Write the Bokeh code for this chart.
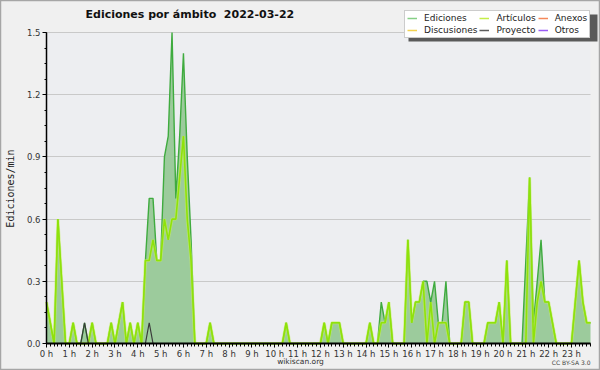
import math
from bokeh.plotting import figure
from bokeh.models import (Range1d, FixedTicker, Legend, LegendItem, Label,
                          BoxAnnotation, Grid)
from bokeh.embed import file_html
from bokeh.resources import INLINE

# 10-minute slots of the day (00:00 ... 23:50)
slots = list(range(144))

# edits per minute, one row per hour (six 10-minute slots)
ediciones = [
    0.2, 0.1, 0.0, 0.6, 0.3, 0.0,   # 0 h
    0.0, 0.1, 0.0, 0.0, 0.1, 0.0,   # 1 h
    0.1, 0.0, 0.0, 0.0, 0.0, 0.1,   # 2 h
    0.0, 0.1, 0.2, 0.0, 0.1, 0.0,   # 3 h
    0.1, 0.0, 0.4, 0.7, 0.7, 0.4,   # 4 h
    0.4, 0.9, 1.0, 1.5, 0.7, 1.0,   # 5 h
    1.4, 0.9, 0.5, 0.0, 0.0, 0.0,   # 6 h
    0.0, 0.1, 0.0, 0.0, 0.0, 0.0,   # 7 h
    0.0, 0.0, 0.0, 0.0, 0.0, 0.0,   # 8 h
    0.0, 0.0, 0.0, 0.0, 0.0, 0.0,   # 9 h
    0.0, 0.0, 0.0, 0.1, 0.0, 0.0,   # 10 h
    0.0, 0.0, 0.0, 0.0, 0.0, 0.0,   # 11 h
    0.0, 0.1, 0.0, 0.1, 0.1, 0.1,   # 12 h
    0.0, 0.0, 0.0, 0.0, 0.0, 0.0,   # 13 h
    0.0, 0.1, 0.0, 0.0, 0.2, 0.1,   # 14 h
    0.2, 0.0, 0.0, 0.0, 0.0, 0.5,   # 15 h
    0.1, 0.2, 0.2, 0.3, 0.3, 0.2,   # 16 h
    0.3, 0.1, 0.1, 0.3, 0.0, 0.0,   # 17 h
    0.0, 0.0, 0.2, 0.2, 0.0, 0.0,   # 18 h
    0.0, 0.0, 0.1, 0.1, 0.1, 0.2,   # 19 h
    0.0, 0.4, 0.0, 0.0, 0.0, 0.0,   # 20 h
    0.4, 0.8, 0.1, 0.3, 0.5, 0.2,   # 21 h
    0.2, 0.1, 0.0, 0.0, 0.0, 0.0,   # 22 h
    0.0, 0.2, 0.4, 0.2, 0.1, 0.1,   # 23 h
]

articulos = [
    0.2, 0.1, 0.0, 0.6, 0.3, 0.0,   # 0 h
    0.0, 0.1, 0.0, 0.0, 0.0, 0.0,   # 1 h
    0.1, 0.0, 0.0, 0.0, 0.0, 0.1,   # 2 h
    0.0, 0.1, 0.2, 0.0, 0.1, 0.0,   # 3 h
    0.1, 0.0, 0.4, 0.4, 0.5, 0.4,   # 4 h
    0.4, 0.6, 0.5, 0.6, 0.6, 0.8,   # 5 h
    1.0, 0.6, 0.4, 0.0, 0.0, 0.0,   # 6 h
    0.0, 0.1, 0.0, 0.0, 0.0, 0.0,   # 7 h
    0.0, 0.0, 0.0, 0.0, 0.0, 0.0,   # 8 h
    0.0, 0.0, 0.0, 0.0, 0.0, 0.0,   # 9 h
    0.0, 0.0, 0.0, 0.1, 0.0, 0.0,   # 10 h
    0.0, 0.0, 0.0, 0.0, 0.0, 0.0,   # 11 h
    0.0, 0.1, 0.0, 0.1, 0.1, 0.1,   # 12 h
    0.0, 0.0, 0.0, 0.0, 0.0, 0.0,   # 13 h
    0.0, 0.1, 0.0, 0.0, 0.1, 0.1,   # 14 h
    0.2, 0.0, 0.0, 0.0, 0.0, 0.5,   # 15 h
    0.1, 0.2, 0.2, 0.3, 0.0, 0.2,   # 16 h
    0.0, 0.1, 0.1, 0.1, 0.0, 0.0,   # 17 h
    0.0, 0.0, 0.2, 0.2, 0.0, 0.0,   # 18 h
    0.0, 0.0, 0.1, 0.1, 0.1, 0.2,   # 19 h
    0.0, 0.4, 0.0, 0.0, 0.0, 0.0,   # 20 h
    0.0, 0.8, 0.0, 0.2, 0.3, 0.2,   # 21 h
    0.2, 0.1, 0.0, 0.0, 0.0, 0.0,   # 22 h
    0.0, 0.2, 0.4, 0.2, 0.1, 0.1,   # 23 h
]

proyecto = [
    0.0, 0.0, 0.0, 0.0, 0.0, 0.0,   # 0 h
    0.0, 0.0, 0.0, 0.0, 0.1, 0.0,   # 1 h
    0.0, 0.0, 0.0, 0.0, 0.0, 0.0,   # 2 h
    0.0, 0.0, 0.0, 0.0, 0.0, 0.0,   # 3 h
    0.0, 0.0, 0.0, 0.1, 0.0, 0.0,   # 4 h
] + [0.0] * 114                     # 5 h .. 23 h: nothing

hour_ticks = [0, 6, 12, 18, 24, 30, 36, 42, 48, 54, 60, 66,
              72, 78, 84, 90, 96, 102, 108, 114, 120, 126, 132, 138]
hour_labels = ["0 h", "1 h", "2 h", "3 h", "4 h", "5 h", "6 h", "7 h",
               "8 h", "9 h", "10 h", "11 h", "12 h", "13 h", "14 h", "15 h",
               "16 h", "17 h", "18 h", "19 h", "20 h", "21 h", "22 h", "23 h"]
y_ticks = [0.0, 0.3, 0.6, 0.9, 1.2, 1.5]
y_labels = ["0.0", "0.3", "0.6", "0.9", "1.2", "1.5"]
y_minor = [0.075 * k for k in range(21)]

legend_names = ["Ediciones", "Artículos", "Anexos", "Discusiones", "Proyecto", "Otros"]
legend_colors = ["#86cf86", "#c4ee48", "#f5895a", "#f3d250", "#5c5c5c", "#9a5cf5"]

FONT = "DejaVu Sans"

# ---- layout (pixels in the 600x370 canvas) ----
W, H = 600, 370
PL, PR, PT, PB = 46, 590, 32, 343          # plot area edges
X0, X1 = 0, 143                            # first / last slot
Y0, Y1 = 0.0, 1.5
sx = (PR - PL) / (X1 - X0)
sy = (PB - PT) / (Y1 - Y0)

p = figure(width=W, height=H,
           x_range=Range1d(X0 - PL / sx, X1 + (W - PR) / sx),
           y_range=Range1d(Y0 - (H - PB) / sy, Y1 + PT / sy),
           output_backend="svg", toolbar_location=None,
           min_border=0, min_border_left=0, min_border_right=0,
           min_border_top=0, min_border_bottom=0,
           background_fill_color="#f0f0f0", border_fill_color="#f0f0f0")
p.outline_line_color = "#a6a6a6"
p.outline_line_width = 1.5
p.title.visible = False

# plot-area background
p.add_layout(BoxAnnotation(left=X0, right=X1, bottom=Y0, top=Y1,
                           fill_color="#edeef1", fill_alpha=1,
                           line_color=None, level="image"))

# axes at fixed positions
for ax in (p.xaxis[0], p.yaxis[0]):
    ax.fixed_location = 0
    ax.axis_line_color = "black"
    ax.major_tick_line_color = "black"
    ax.minor_tick_line_color = "black"
    ax.major_tick_in = 0
    ax.minor_tick_in = 0
    ax.major_label_text_font = FONT
    ax.major_label_text_font_size = "8.5px"
    ax.major_label_text_color = "#333333"
p.xaxis.ticker = FixedTicker(ticks=hour_ticks, minor_ticks=slots)
p.xaxis.major_label_overrides = {t: l for t, l in zip(hour_ticks, hour_labels)}
p.xaxis.bounds = (X0, X1)
p.yaxis.ticker = FixedTicker(ticks=y_ticks, minor_ticks=y_minor)
p.yaxis.major_label_overrides = {t: l for t, l in zip(y_ticks, y_labels)}
p.yaxis.bounds = (Y0, Y1)
p.xaxis.axis_line_width = 2
p.yaxis.axis_line_width = 1.5
p.xaxis.major_tick_out = 4
p.xaxis.minor_tick_out = 3
p.xaxis.major_label_standoff = 1
p.yaxis.major_tick_out = 4
p.yaxis.minor_tick_out = 2
p.yaxis.major_label_standoff = 2

p.xgrid.visible = False
p.ygrid.ticker = FixedTicker(ticks=y_ticks[1:])
p.ygrid.grid_line_color = "#c9c9c9"
p.ygrid.grid_line_width = 1
if "cross_bounds" in Grid.properties():
    p.ygrid.cross_bounds = (X0, X1)
else:
    p.ygrid.visible = False
    p.segment(x0=X0, x1=X1, y0=y_ticks[1:], y1=y_ticks[1:],
              line_color="#c9c9c9", line_width=1, level="underlay")

# data
p.varea(x=slots, y1=0, y2=ediciones, fill_color="#9ccb9c", fill_alpha=1.0)
p.line(slots, ediciones, line_color="#3fab3f", line_width=1.4)
p.line(slots, articulos, line_color="#c6f25c", line_width=3, line_alpha=0.6)
p.line(slots, articulos, line_color="#8fe20a", line_width=1.6)
p.line(slots, proyecto, line_color="#3a3a3a", line_width=1.2)

# legend swatches: renderers that draw nothing in the plot (NaN values)
items = []
for name, col in zip(legend_names, legend_colors):
    r = p.line(x=slots[:1], y=[float("nan")], line_color=col, line_width=1.5)
    items.append(LegendItem(label=name, renderers=[r]))

# legend drop shadow
p.add_layout(BoxAnnotation(left=408, right=597, bottom=H - 41, top=H - 14,
                           left_units="screen", right_units="screen",
                           bottom_units="screen", top_units="screen",
                           fill_color="#5a5a5a", fill_alpha=1, line_color=None))
legend = Legend(items=items, location=(404, 332), orientation="horizontal",
                ncols=3, margin=0, padding=2, spacing=2,
                glyph_width=10, glyph_height=10, label_height=10,
                label_standoff=7, label_text_font=FONT,
                label_text_font_size="9px", label_text_color="#222222",
                background_fill_color="white", background_fill_alpha=1,
                border_line_color="#9a9a9a", border_line_width=1)
p.add_layout(legend)

# texts (screen units from the canvas bottom-left)
p.add_layout(Label(x=85, y=H - 14, x_units="screen", y_units="screen",
                   text="Ediciones por ámbito \u00a02022-03-22",
                   text_font=FONT, text_font_style="bold", text_font_size="11px",
                   text_color="#111111", text_baseline="middle", text_align="left"))
p.add_layout(Label(x=10, y=H - 188, x_units="screen", y_units="screen",
                   text="Ediciones/min", angle=math.pi / 2,
                   text_font="DejaVu Sans Mono", text_font_size="10px",
                   text_color="#222222", text_baseline="middle", text_align="center"))
p.add_layout(Label(x=300, y=H - 361, x_units="screen", y_units="screen",
                   text="wikiscan.org", text_font=FONT, text_font_size="7.5px",
                   text_color="#333333", text_baseline="middle", text_align="center"))
p.add_layout(Label(x=590, y=H - 362, x_units="screen", y_units="screen",
                   text="CC BY-SA 3.0", text_font=FONT, text_font_size="6px",
                   text_color="#444444", text_baseline="middle", text_align="right"))

open("out.html", "w").write(file_html(p, INLINE))
